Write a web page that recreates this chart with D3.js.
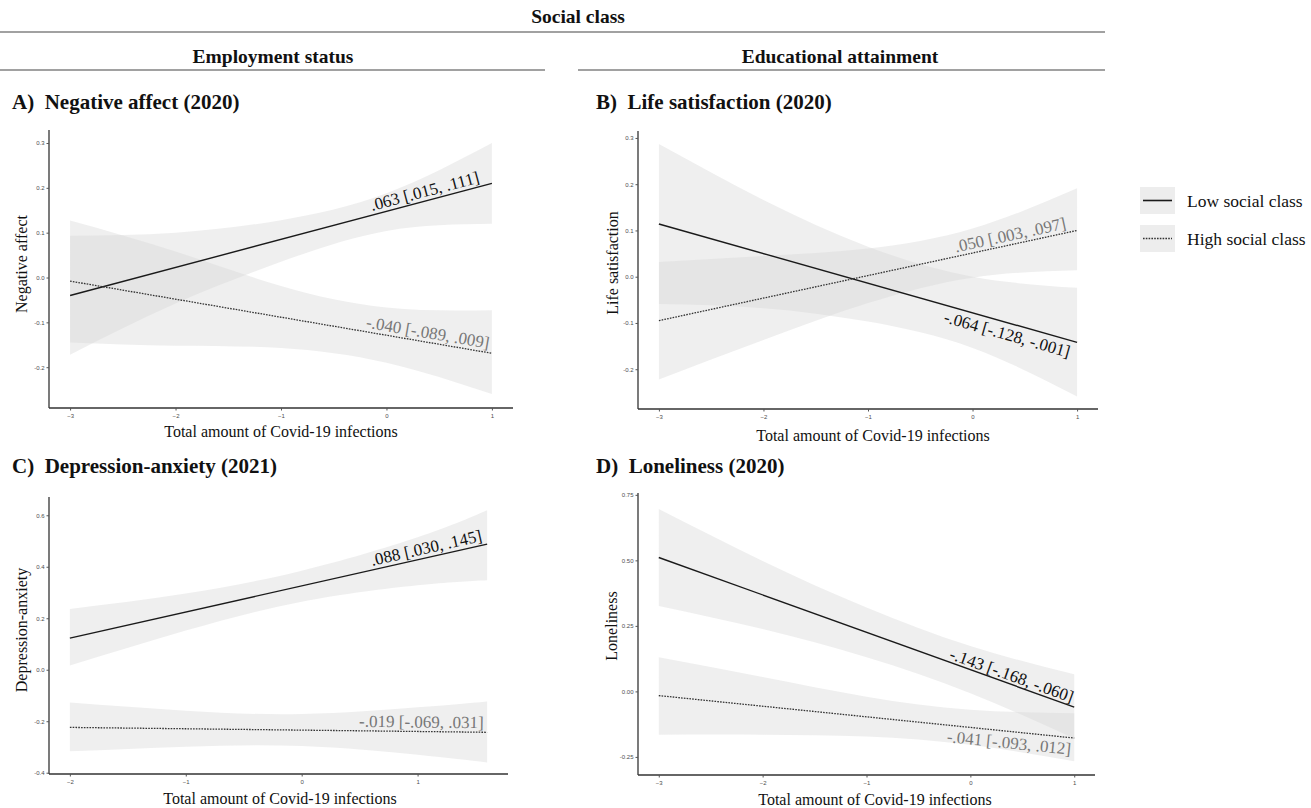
<!DOCTYPE html>
<html>
<head>
<meta charset="utf-8">
<script src="https://cdn.jsdelivr.net/npm/d3@7"></script>
<style>
  body { margin: 0; background: #fff; }
  text { font-family: "Liberation Serif", "Times New Roman", serif; }
</style>
</head>
<body>
<svg id="chart" width="1311" height="808"></svg>
<script>
// values (simple slopes + confidence bands)
const xTicksWide = [-3, -2, -1, 0, 1];
const xTicksDep = [-2, -1, 0, 1];

// A) Negative affect (2020)
const negLineX = [-3, 1];
const negLow = [-0.040, 0.210];
const negHigh = [-0.008, -0.169];
const negBandX = [-3, -2, -1, 0, 1];
const negLowUpper = [0.093, 0.100, 0.128, 0.188, 0.300];
const negLowLower = [-0.172, -0.058, 0.035, 0.104, 0.120];
const negHighUpper = [0.127, 0.058, -0.019, -0.067, -0.073];
const negHighLower = [-0.145, -0.152, -0.157, -0.190, -0.260];
const negYTicks = [-0.2, -0.1, 0.0, 0.1, 0.2, 0.3];

// B) Life satisfaction (2020)
const lifeLineX = [-3, 1];
const lifeLow = [0.114, -0.142];
const lifeHigh = [-0.095, 0.100];
const lifeBandX = [-3, -2, -1, 0, 1];
const lifeLowUpper = [0.287, 0.166, 0.065, 0.000, -0.024];
const lifeLowLower = [-0.059, -0.068, -0.097, -0.154, -0.259];
const lifeHighUpper = [0.032, 0.045, 0.061, 0.104, 0.191];
const lifeHighLower = [-0.222, -0.137, -0.057, -0.002, 0.014];
const lifeYTicks = [-0.2, -0.1, 0.0, 0.1, 0.2, 0.3];

// C) Depression-anxiety (2021)
const depLineX = [-2, 1.6];
const depLow = [0.123, 0.488];
const depHigh = [-0.224, -0.243];
const depBandX = [-2, -1, 0, 1, 1.6];
const depLowUpper = [0.236, 0.296, 0.385, 0.515, 0.620];
const depLowLower = [0.016, 0.152, 0.264, 0.328, 0.348];
const depHighUpper = [-0.127, -0.159, -0.172, -0.146, -0.123];
const depHighLower = [-0.317, -0.299, -0.296, -0.330, -0.360];
const depYTicks = [-0.4, -0.2, 0.0, 0.2, 0.4, 0.6];

// D) Loneliness (2020)
const lonLineX = [-3, 1];
const lonLow = [0.511, -0.060];
const lonHigh = [-0.016, -0.178];
const lonBandX = [-3, -2, -1, 0, 1];
const lonLowUpper = [0.696, 0.498, 0.320, 0.173, 0.065];
const lonLowLower = [0.326, 0.238, 0.130, -0.007, -0.180];
const lonHighUpper = [0.130, 0.055, -0.020, -0.070, -0.083];
const lonHighLower = [-0.165, -0.165, -0.172, -0.204, -0.267];
const lonYTicks = [-0.25, 0.00, 0.25, 0.50, 0.75];

const panels = [
  {
    title: "A)  Negative affect (2020)", titleX: 12, titleY: 109,
    yLabel: "Negative affect", yLabelX: 21, yLabelY: 264,
    box: { left: 49, right: 513, top: 130, bottom: 408 },
    xDomain: [-3.2, 1.2], yDomain: [-0.291, 0.329],
    xTicks: xTicksWide, yTicks: negYTicks, yFmt: ".1f",
    lineX: negLineX, low: negLow, high: negHigh,
    bandX: negBandX,
    lowBand: [negLowUpper, negLowLower], highBand: [negHighUpper, negHighLower],
    lowLabel: { text: ".063 [.015, .111]", x: 0.9, dy: -4 },
    highLabel: { text: "-.040 [-.089, .009]", x: 0.96, dy: -4 },
    xLabelX: 281, xLabelY: 437,
  },
  {
    title: "B)  Life satisfaction (2020)", titleX: 596, titleY: 109,
    yLabel: "Life satisfaction", yLabelX: 612, yLabelY: 263,
    box: { left: 638, right: 1098, top: 131, bottom: 409 },
    xDomain: [-3.2, 1.2], yDomain: [-0.286, 0.315],
    xTicks: xTicksWide, yTicks: lifeYTicks, yFmt: ".1f",
    lineX: lifeLineX, low: lifeLow, high: lifeHigh,
    bandX: lifeBandX,
    lowBand: [lifeLowUpper, lifeLowLower], highBand: [lifeHighUpper, lifeHighLower],
    lowLabel: { text: "-.064 [-.128, -.001]", x: 0.96, dy: 17 },
    highLabel: { text: ".050 [.003, .097]", x: 0.91, dy: -4 },
    xLabelX: 873, xLabelY: 441,
  },
  {
    title: "C)  Depression-anxiety (2021)", titleX: 12, titleY: 473,
    yLabel: "Depression-anxiety", yLabelX: 21, yLabelY: 630,
    box: { left: 49, right: 508, top: 497, bottom: 774 },
    xDomain: [-2.18, 1.78], yDomain: [-0.405, 0.671],
    xTicks: xTicksDep, yTicks: depYTicks, yFmt: ".1f",
    lineX: depLineX, low: depLow, high: depHigh,
    bandX: depBandX,
    lowBand: [depLowUpper, depLowLower], highBand: [depHighUpper, depHighLower],
    lowLabel: { text: ".088 [.030, .145]", x: 1.57, dy: -4 },
    highLabel: { text: "-.019 [-.069, .031]", x: 1.57, dy: -4 },
    xLabelX: 280, xLabelY: 804,
  },
  {
    title: "D)  Loneliness (2020)", titleX: 596, titleY: 473,
    yLabel: "Loneliness", yLabelX: 611, yLabelY: 626,
    box: { left: 638, right: 1095, top: 493, bottom: 775 },
    xDomain: [-3.2, 1.2], yDomain: [-0.319, 0.757],
    xTicks: xTicksWide, yTicks: lonYTicks, yFmt: ".2f",
    lineX: lonLineX, low: lonLow, high: lonHigh,
    bandX: lonBandX,
    lowBand: [lonLowUpper, lonLowLower], highBand: [lonHighUpper, lonHighLower],
    lowLabel: { text: "-.143 [-.168, -.060]", x: 0.96, dy: -3 },
    highLabel: { text: "-.041 [-.093, .012]", x: 0.98, dy: 17 },
    xLabelX: 875, xLabelY: 805,
  },
];

const svg = d3.select("#chart");
const INK = "#111";
const GREY_TEXT = "#777";

// header block
svg.append("text").attr("x", 578).attr("y", 23).attr("text-anchor", "middle")
  .attr("font-size", 19.5).attr("font-weight", "bold").attr("fill", INK).text("Social class");
svg.append("line").attr("x1", 0).attr("x2", 1105).attr("y1", 32).attr("y2", 32)
  .attr("stroke", "#444").attr("stroke-width", 1.2);

[
  { label: "Employment status", cx: 273, x1: 0, x2: 545 },
  { label: "Educational attainment", cx: 840, x1: 578, x2: 1105 },
].forEach((h) => {
  svg.append("text").attr("x", h.cx).attr("y", 63).attr("text-anchor", "middle")
    .attr("font-size", 19.5).attr("font-weight", "bold").attr("fill", INK).text(h.label);
  svg.append("line").attr("x1", h.x1).attr("x2", h.x2).attr("y1", 70).attr("y2", 70)
    .attr("stroke", "#444").attr("stroke-width", 1.2);
});

function drawPanel(p) {
  const { left, right, top, bottom } = p.box;
  const x = d3.scaleLinear().domain(p.xDomain).range([left, right]);
  const y = d3.scaleLinear().domain(p.yDomain).range([bottom, top]);
  const g = svg.append("g");

  g.append("text").attr("x", p.titleX).attr("y", p.titleY)
    .attr("font-size", 21).attr("font-weight", "bold").attr("fill", INK)
    .attr("xml:space", "preserve").text(p.title);

  // confidence bands
  const area = d3.area()
    .x((d) => x(d.x)).y0((d) => y(d.lo)).y1((d) => y(d.hi))
    .curve(d3.curveNatural);
  [p.lowBand, p.highBand].forEach(([upper, lower]) => {
    const pts = p.bandX.map((v, i) => ({ x: v, hi: upper[i], lo: lower[i] }));
    g.append("path").attr("d", area(pts))
      .attr("fill", "#d6d6d6").attr("fill-opacity", 0.4);
  });

  // axes
  const xAxis = d3.axisBottom(x).tickValues(p.xTicks).tickFormat(d3.format("d"))
    .tickSize(2.5).tickPadding(3);
  const yAxis = d3.axisLeft(y).tickValues(p.yTicks)
    .tickFormat((d) => d3.format(p.yFmt)(d).replace("−", "-"))
    .tickSize(2.5).tickPadding(2);
  const gx = g.append("g").attr("transform", `translate(0,${bottom})`).call(xAxis);
  const gy = g.append("g").attr("transform", `translate(${left},0)`).call(yAxis);
  [gx, gy].forEach((ax) => {
    ax.select(".domain").attr("stroke", "#333").attr("stroke-width", 1.3);
    ax.selectAll(".tick line").attr("stroke", "#555");
    ax.selectAll(".tick text").attr("fill", "#4d4d4d").attr("font-size", 6)
      .style("font-family", "Arial, Helvetica, sans-serif");
  });
  gx.select(".domain").attr("d", `M${left},0H${right}`);
  gy.select(".domain").attr("d", `M0,${bottom}V${top}`);

  // fitted lines
  const line = d3.line().x((d) => x(d[0])).y((d) => y(d[1]));
  const lowPts = p.lineX.map((v, i) => [v, p.low[i]]);
  const highPts = p.lineX.map((v, i) => [v, p.high[i]]);
  g.append("path").attr("d", line(lowPts)).attr("fill", "none")
    .attr("stroke", "#1a1a1a").attr("stroke-width", 1.4);
  g.append("path").attr("d", line(highPts)).attr("fill", "none")
    .attr("stroke", "#333").attr("stroke-width", 1.3).attr("stroke-dasharray", "1.6,1.2");

  // slope labels along the lines
  function label(pts, cfg, color) {
    const [a, b] = pts;
    const t = (cfg.x - a[0]) / (b[0] - a[0]);
    const yv = a[1] + t * (b[1] - a[1]);
    const ang = Math.atan2(y(b[1]) - y(a[1]), x(b[0]) - x(a[0])) * 180 / Math.PI;
    g.append("text")
      .attr("transform", `translate(${x(cfg.x)},${y(yv)}) rotate(${ang})`)
      .attr("dy", cfg.dy).attr("text-anchor", "end")
      .attr("font-size", 17).attr("fill", color).text(cfg.text);
  }
  label(lowPts, p.lowLabel, INK);
  label(highPts, p.highLabel, GREY_TEXT);

  // axis titles
  g.append("text")
    .attr("transform", `translate(${p.yLabelX},${p.yLabelY}) rotate(-90)`)
    .attr("text-anchor", "middle").attr("dy", "0.35em")
    .attr("font-size", 16).attr("fill", INK).text(p.yLabel);
  g.append("text").attr("x", p.xLabelX).attr("y", p.xLabelY)
    .attr("text-anchor", "middle").attr("font-size", 16).attr("fill", INK)
    .text("Total amount of Covid-19 infections");
}

panels.forEach(drawPanel);

// legend
const legend = svg.append("g").attr("transform", "translate(1140,187)");
[
  { label: "Low social class", dash: null, color: "#1a1a1a" },
  { label: "High social class", dash: "1.6,1.2", color: "#333" },
].forEach((d, i) => {
  const row = legend.append("g").attr("transform", `translate(0,${i * 38})`);
  row.append("rect").attr("width", 35).attr("height", 27).attr("fill", "#ededed");
  row.append("line").attr("x1", 3).attr("x2", 32).attr("y1", 13.5).attr("y2", 13.5)
    .attr("stroke", d.color).attr("stroke-width", d.dash ? 1.3 : 1.6)
    .attr("stroke-dasharray", d.dash);
  row.append("text").attr("x", 47).attr("y", 14).attr("dy", "0.35em")
    .attr("font-size", 17.5).attr("fill", INK).text(d.label);
});
</script>
</body>
</html>
